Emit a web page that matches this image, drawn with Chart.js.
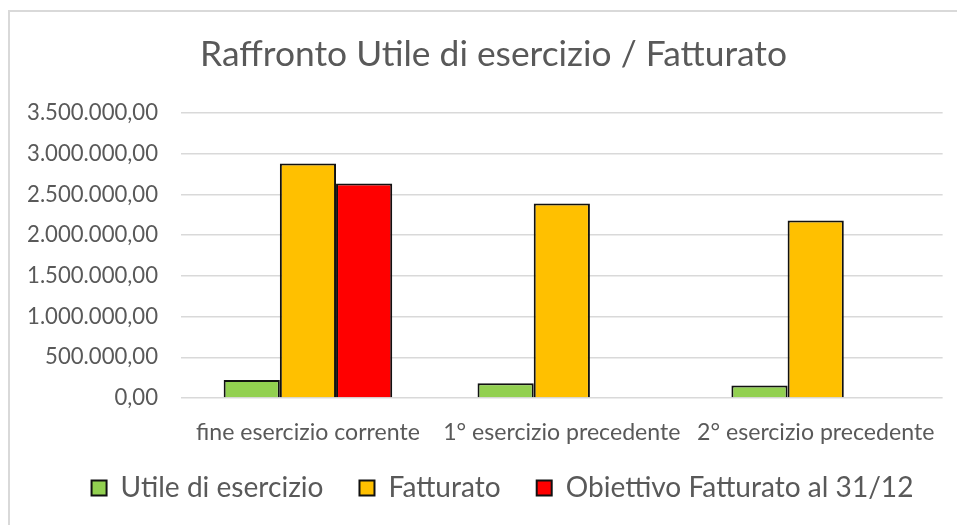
<!DOCTYPE html>
<html><head><meta charset="utf-8">
<script src="https://cdn.jsdelivr.net/npm/chart.js@4/dist/chart.umd.min.js"></script>
<style>html,body{margin:0;padding:0;background:#fff;}#wrap{position:relative;width:957px;height:525px;}</style>
</head><body><div id="wrap"><canvas id="c" width="957" height="525"></canvas></div>
<script>
// ---- data ----
const titleText = "Raffronto Utile di esercizio / Fatturato";
const categories = ["fine esercizio corrente", "1° esercizio precedente", "2° esercizio precedente"];
const seriesNames = ["Utile di esercizio", "Fatturato", "Obiettivo Fatturato al 31/12"];
const utileValues = [222000, 180000, 155000];
const fatturatoValues = [2880000, 2390000, 2180000];
const obiettivoValues = [2635000, null, null];
const yTickValues = [0, 500000, 1000000, 1500000, 2000000, 2500000, 3000000, 3500000];

// ---- helpers ----
const FAM = "Lato, 'Open Sans', sans-serif";
const TEXT = "#595959";
function fmt(v) {
  const parts = Math.round(v).toString().replace(/\B(?=(\d{3})+(?!\d))/g, ".");
  return parts + ",00";
}
function fit(text, target) {
  const ctx = document.createElement('canvas').getContext('2d');
  ctx.font = "100px " + FAM;
  return 100 * target / ctx.measureText(text).width;
}

function build() {
  const titleSize = fit(titleText, 587);
  const tickSize = fit("3.500.000,00", 131);
  const xSize = fit(categories[0], 224);
  const legSize = fit(seriesNames[0], 203);

  const padTop = 11;
  const titleCenter = 55;
  const plotTop = 113, plotBottom = 398;
  const tPadTop = titleCenter - padTop - titleSize * 0.6;
  const tPadBottom = plotTop - (padTop + tPadTop + titleSize * 1.2);

  const legPad = 36;
  const legCenter = 488;
  const legHeight = legSize + legPad + 10;
  const xAxisH = 50;
  const legTop = plotBottom + xAxisH;
  const padBottom = 525 - legTop - legHeight;
  const legShift = (legCenter - legPad - legSize / 2) - legTop;
  const leftPad = 20;
  const titleShift = 493.5 - (leftPad + 947) / 2;

  const frame = {
    id: 'frame',
    beforeDraw(chart) {
      const c = chart.ctx;
      c.save();
      c.strokeStyle = '#d9d9d9';
      c.lineWidth = 2;
      c.beginPath();
      c.moveTo(9, 530); c.lineTo(9, 11); c.lineTo(960, 11);
      c.stroke();
      c.restore();
    },
    afterLayout(chart) {
      if (chart.legend) {
        chart.legend.left += 19; chart.legend.right += 19;
        chart.legend.top += legShift; chart.legend.bottom += legShift;
      }
      if (chart.titleBlock) { chart.titleBlock.left += titleShift; chart.titleBlock.right += titleShift; }
    }
  };

  new Chart(document.getElementById('c'), {
    type: 'bar',
    data: {
      labels: categories,
      datasets: [
        { label: seriesNames[0], data: utileValues, backgroundColor: '#92D050', borderColor: '#111111', borderWidth: 2 },
        { label: seriesNames[1], data: fatturatoValues, backgroundColor: '#FFC000', borderColor: '#111111', borderWidth: 2 },
        { label: seriesNames[2], data: obiettivoValues, backgroundColor: '#FF0000', borderColor: '#111111', borderWidth: 2 }
      ]
    },
    plugins: [frame],
    options: {
      responsive: false,
      animation: false,
      devicePixelRatio: 1,
      categoryPercentage: 0.664,
      barPercentage: 1,
      layout: { padding: { left: leftPad, right: 10, top: padTop, bottom: padBottom } },
      plugins: {
        title: {
          display: true, text: titleText, color: TEXT,
          font: { family: FAM, size: titleSize, weight: 'normal' },
          padding: { top: tPadTop, bottom: tPadBottom }
        },
        legend: {
          position: 'bottom',
          labels: {
            color: TEXT, font: { family: FAM, size: legSize },
            boxWidth: 15, boxHeight: 15, padding: legPad
          }
        },
        tooltip: { enabled: false }
      },
      scales: {
        x: {
          grid: { display: false, drawTicks: false },
          border: { display: false },
          ticks: { color: TEXT, font: { family: FAM, size: xSize }, padding: 21, maxRotation: 0, autoSkip: false },
          afterFit(s) { s.height = xAxisH; }
        },
        y: {
          min: 0, max: 3500000,
          afterBuildTicks(s) { s.ticks = yTickValues.map(v => ({ value: v })); },
          grid: { color: '#d9d9d9', lineWidth: 1.5, drawTicks: false },
          border: { display: false },
          ticks: { color: TEXT, font: { family: FAM, size: tickSize }, padding: 23, callback: v => fmt(v) },
          afterFit(s) { s.width = 181 - leftPad; }
        }
      }
    }
  });
}
if (document.fonts && document.fonts.load) {
  document.fonts.load("20px Lato").then(build, build);
} else build();
</script>
</body></html>
